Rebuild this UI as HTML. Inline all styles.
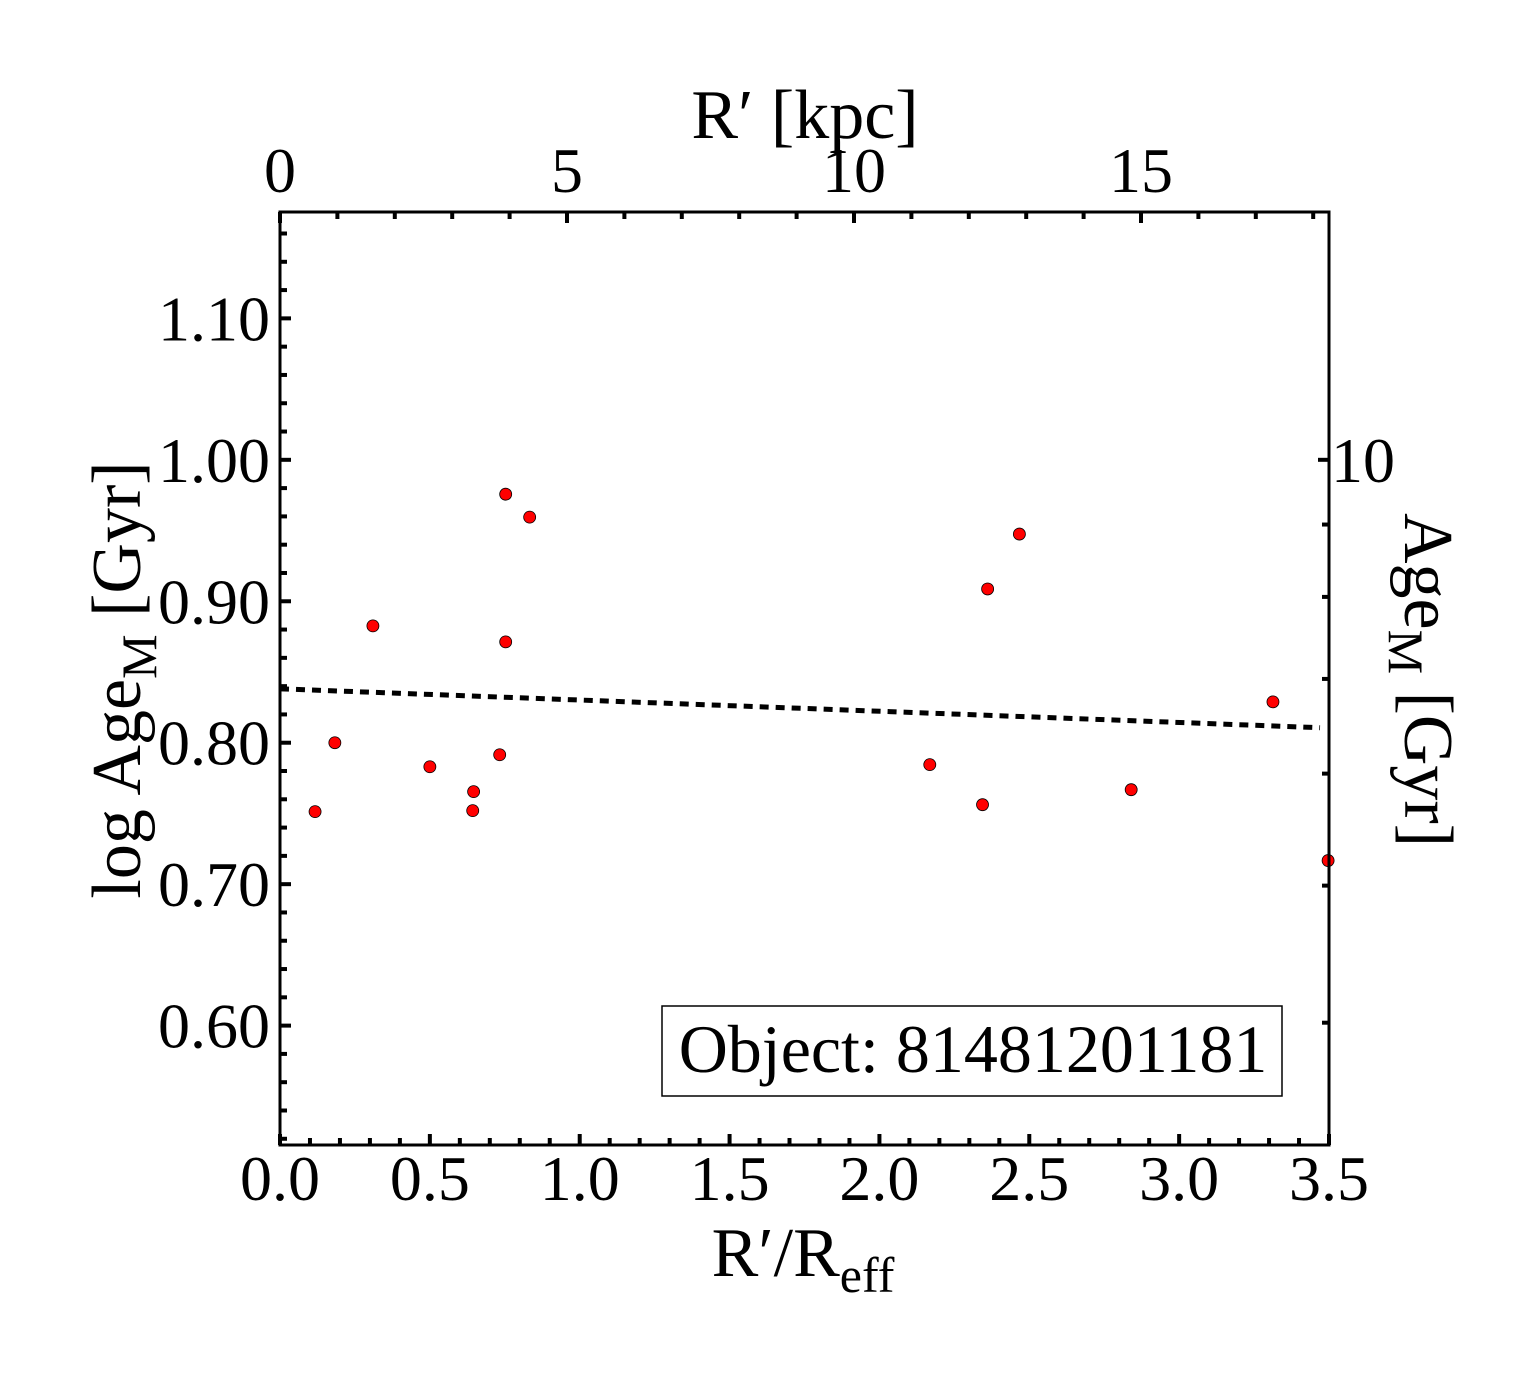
<!DOCTYPE html>
<html><head><meta charset="utf-8"><style>
html,body{margin:0;padding:0;background:#fff;}
svg{display:block;font-family:"Liberation Serif",serif;}
</style></head><body>
<svg id="chart" width="1540" height="1375" viewBox="0 0 1540 1375" xmlns="http://www.w3.org/2000/svg">
<g id="ticks"></g>
<g id="marks"></g>
<rect x="280" y="212" width="1049" height="933" fill="none" stroke="#000" stroke-width="3"/>
<g id="labels" font-size="64" fill="#000"></g>
<text x="805" y="138" font-size="70" text-anchor="middle">R′ [kpc]</text>
<text x="803" y="1276" font-size="70" text-anchor="middle">R′/R<tspan font-size="50" dy="16">eff</tspan></text>
<text transform="translate(140,680) rotate(-90)" font-size="70" text-anchor="middle">log Age<tspan font-size="50" dy="16">M</tspan><tspan dy="-16"> [Gyr]</tspan></text>
<text transform="translate(1405,680) rotate(90)" font-size="70" text-anchor="middle">Age<tspan font-size="50" dy="16">M</tspan><tspan dy="-16"> [Gyr]</tspan></text>
<g>
<rect x="662" y="1006" width="620" height="90" fill="#fff" stroke="#000" stroke-width="1.5"/>
<text x="973" y="1072" font-size="68" text-anchor="middle">Object: 81481201181</text>
</g>
</svg>
<script>
const xVals=[0.117,0.183,0.31,0.50,0.646,0.643,0.733,0.753,0.753,0.833,2.168,2.344,2.361,2.467,2.84,3.313,3.497];
const yVals=[0.7513,0.800,0.8826,0.783,0.7654,0.752,0.7915,0.8713,0.9757,0.9595,0.7845,0.7562,0.9087,0.9475,0.7668,0.8289,0.7167];
const fitX=[0.0,3.47];
const fitY=[0.8381,0.8106];
const xTickLabels=["0.0","0.5","1.0","1.5","2.0","2.5","3.0","3.5"];
const yTickLabels=["0.60","0.70","0.80","0.90","1.00","1.10"];
const kpcTickLabels=["0","5","10","15"];
const ageTicks=[4,5,6,7,8,9,10];
const NS="http://www.w3.org/2000/svg";
const X0=280,X1=1329,Y0=212,Y1=1145;
const xMin=0,xMax=3.5,yMin=0.5156,yMax=1.1752,kpcPerPx=1/57.4;
const sx=v=>X0+(v-xMin)/(xMax-xMin)*(X1-X0);
const sy=v=>Y1-(v-yMin)/(yMax-yMin)*(Y1-Y0);
const sk=k=>X0+k/kpcPerPx;
function mk(tag,attrs,parent){const e=document.createElementNS(NS,tag);for(const k in attrs)e.setAttribute(k,attrs[k]);parent.appendChild(e);return e;}
const T=document.getElementById('ticks'),L=document.getElementById('labels'),M=document.getElementById('marks');
function line(x1,y1,x2,y2){const e=mk('line',{x1,y1,x2,y2,stroke:'#000','stroke-width':4},T);

}
for(let i=0;i<=35;i++){const v=i/10,x=sx(v),len=i%5==0?11:7;line(x,Y1,x,Y1-len);}
xTickLabels.forEach(s=>{const t=mk('text',{x:sx(parseFloat(s)),y:1200,'text-anchor':'middle'},L);t.textContent=s;

});
for(let i=26;i<=58;i++){const v=i/50,y=sy(v);if(y<Y0||y>Y1)continue;const len=(i%5==0)?11:7;line(X0,y,X0+len,y);}
yTickLabels.forEach(s=>{const t=mk('text',{x:270,y:sy(parseFloat(s))+22,'text-anchor':'end'},L);t.textContent=s;

});
for(let k=0;k<=18;k++){const x=sk(k);if(x>X1)continue;const len=k%5==0?11:7;line(x,Y0,x,Y0+len);}
kpcTickLabels.forEach(s=>{const t=mk('text',{x:sk(parseFloat(s)),y:192,'text-anchor':'middle'},L);t.textContent=s;

});
ageTicks.forEach(a=>{const y=sy(Math.log10(a));if(y<Y0||y>Y1)return;const len=a==10?11:7;line(X1,y,X1-len,y);
if(a==10){const t=mk('text',{x:1331,y:y+22,'text-anchor':'start'},L);t.textContent='10';

}});
const fl=mk('line',{x1:sx(fitX[0]),y1:sy(fitY[0]),x2:sx(fitX[1]),y2:sy(fitY[1]),stroke:'#000','stroke-width':5,'stroke-dasharray':'9 7'},M);


xVals.forEach((v,i)=>{const c=mk('circle',{cx:sx(v),cy:sy(yVals[i]),r:6,fill:'#ff0000',stroke:'#000','stroke-width':0.8},M);

});
</script>
</body></html>
